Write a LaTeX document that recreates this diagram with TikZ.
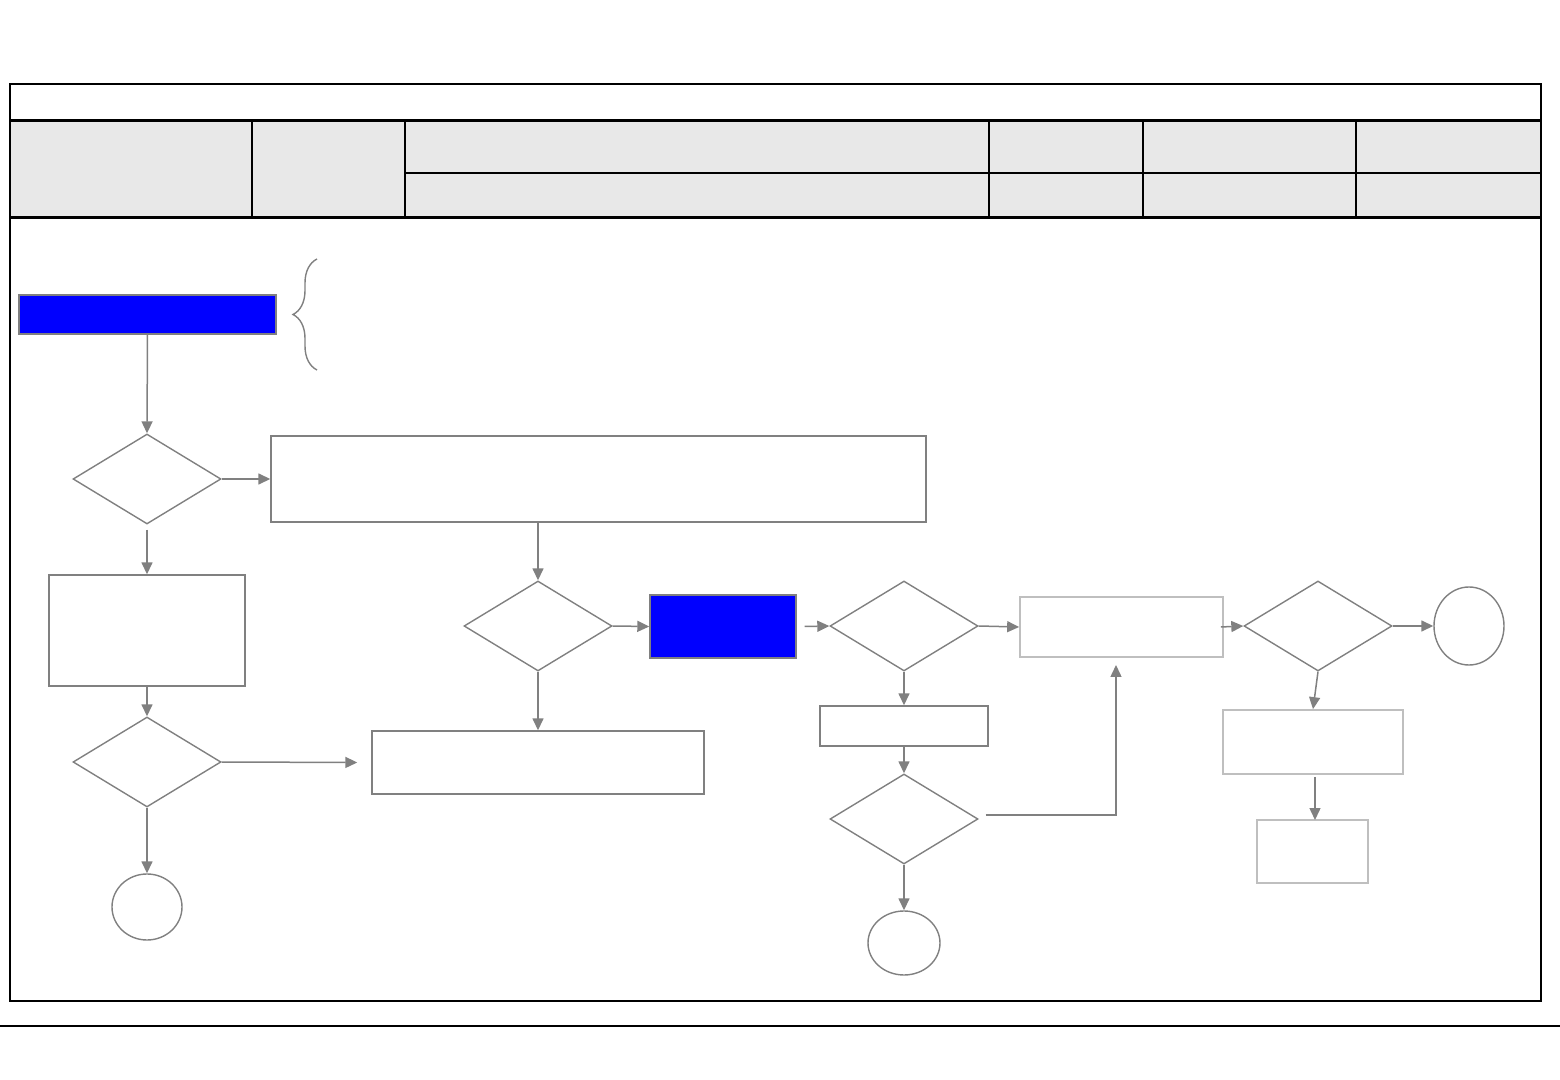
\documentclass[tikz,border=0pt]{standalone}
\usetikzlibrary{shapes.geometric,arrows.meta,fit,decorations.pathreplacing}
\definecolor{ln}{HTML}{808080}
\definecolor{lt}{HTML}{BFBFBF}
\definecolor{hd}{HTML}{E8E8E8}
\begin{document}
\begin{tikzpicture}[x=0.5pt,y=-0.5pt,
 conn/.style={draw=ln,line width=0.75pt,-{Triangle[length=6pt,width=5.5pt]}},
 box/.style={draw=ln,line width=0.7pt,inner sep=0pt,rectangle},
 lbox/.style={draw=lt,line width=0.85pt,inner sep=0pt,rectangle},
 bluebox/.style={box,fill=blue},
 dec/.style={draw=ln,line width=0.7pt,diamond,minimum width=74pt,minimum height=45pt,inner sep=0pt},
 term/.style={draw=ln,line width=0.7pt,ellipse,inner sep=0pt}]
\useasboundingbox (0,0) rectangle (1560,1080);
% header table
\fill[hd] (10,121) rectangle (1541,218);
\draw[line width=1.2pt] (10,84) rectangle (1541,1001);
\draw[line width=1.5pt] (10,121) -- (1541,121);
\draw[line width=1.5pt] (10,218) -- (1541,218);
\draw[line width=1pt] (405,173) -- (1541,173);
\foreach \x in {252,405,989,1143,1356} \draw[line width=1pt] (\x,121) -- (\x,218);
\draw[line width=0.6pt] (0,1026) -- (1560,1026);
% nodes
\node[bluebox,fit={(19,295)(276,334)}] (start) {};
\node[dec] (d1) at (147,479) {};
\node[box,fit={(271,436)(926,522)}] (r1) {};
\node[box,fit={(49,575)(245,686)}] (b1) {};
\node[dec] (d2) at (147,762) {};
\node[box,fit={(372,731)(704,794)}] (r2) {};
\node[term,minimum width=35pt,minimum height=33pt] (c1) at (147,907) {};
\node[dec] (d3) at (538,626) {};
\node[bluebox,fit={(650,595)(796,658)}] (b2) {};
\node[dec] (d4) at (904,626) {};
\node[lbox,fit={(1020,597)(1223,657)}] (r3) {};
\node[box,fit={(820,706)(988,746)}] (r4) {};
\node[dec] (d5) at (904,819) {};
\node[term,minimum width=36pt,minimum height=32pt] (c2) at (904,943) {};
\node[dec] (d6) at (1318,626) {};
\node[term,minimum width=35pt,minimum height=39pt] (c3) at (1469,626) {};
\node[lbox,fit={(1223,710)(1403,774)}] (r5) {};
\node[lbox,fit={(1257,820)(1368,883)}] (r6) {};
\coordinate (r3in) at (1116,665);
\coordinate (r6in) at (1315,820);
% brace
\draw[ln,line width=0.7pt,decorate,decoration={brace,amplitude=12pt}] (317,370) -- (317,259);
% connectors
\draw[conn] (start.south) -- (d1.north);
\draw[conn] (d1.east) -- (r1.west);
\draw[conn] ([yshift=-2.5pt]d1.south) -- (b1.north);
\draw[conn] (b1.south) -- (d2.north);
\draw[conn] (d2.east) -- ([xshift=-7pt]r2.west);
\draw[conn] (d2.south) -- (c1.north);
\draw[conn] (d3.north |- r1.south) -- (d3.north);
\draw[conn] (d3.east) -- (b2.west);
\draw[conn] (d3.south) -- (r2.north);
\draw[conn] ([xshift=4pt]b2.east) -- (d4.west);
\draw[conn] (d4.east) -- (r3.west);
\draw[conn] (d4.south) -- (r4.north);
\draw[conn] (r4.south) -- (d5.north);
\draw[conn] ([xshift=3.5pt,yshift=2pt]d5.east) -| (r3in);
\draw[conn] (d5.south) -- (c2.north);
\draw[conn] ([xshift=-1.5pt]r3.east) -- (d6.west);
\draw[conn] (d6.east) -- (c3.west);
\draw[conn] (d6.south) -- (r5.north);
\draw[conn] ([yshift=-1pt]r6in |- r5.south) -- (r6in);
\end{tikzpicture}
\end{document}
